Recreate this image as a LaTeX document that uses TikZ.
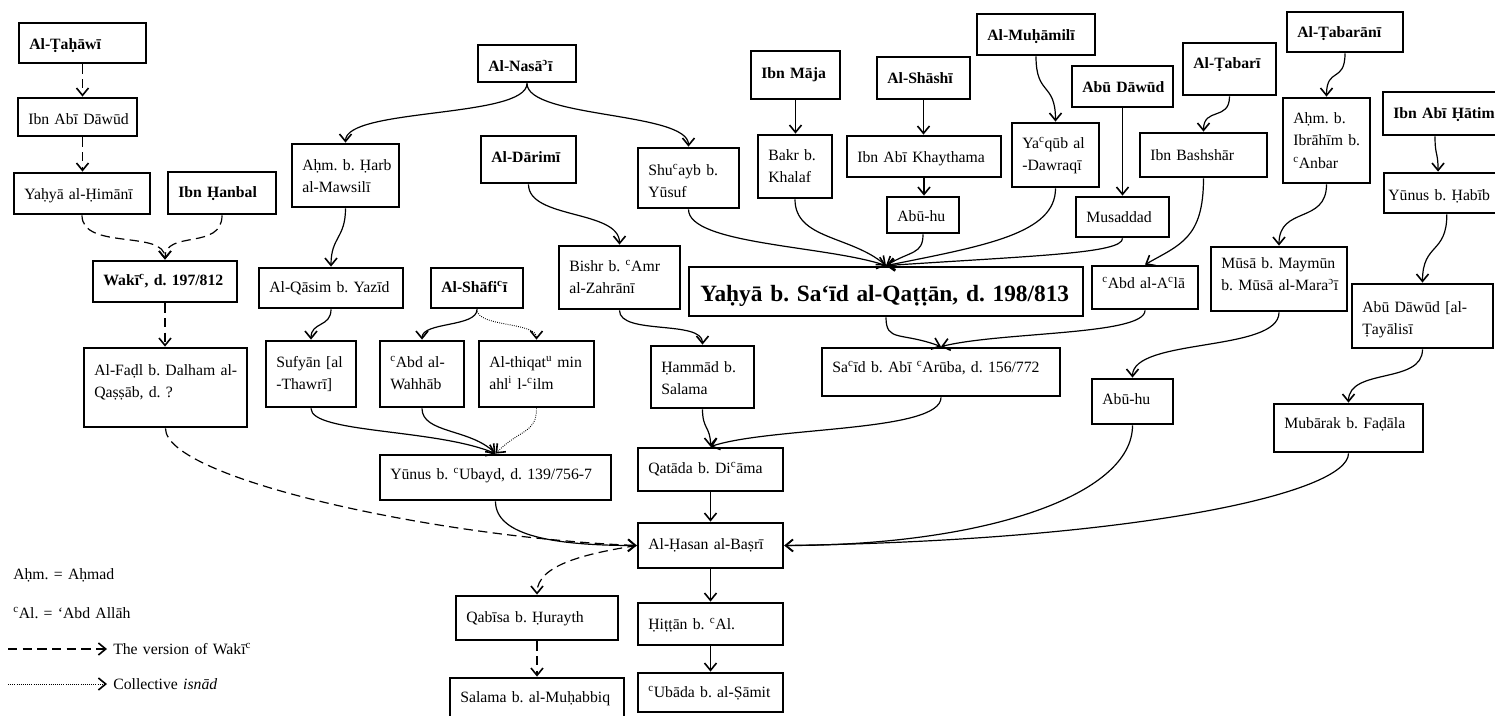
\documentclass[tikz,border=0pt]{standalone}
\usepackage{fontspec}
\setmainfont{Liberation Serif}
\usetikzlibrary{arrows.meta,fit}
\frenchspacing
% superscript ayn and hamza
\newcommand\ayn{\textsuperscript{c}}
\newcommand\hmz{\textsuperscript{ɔ}}
\tikzset{
  isframe/.style={draw=black, line width=2.1pt, inner sep=0pt},
  istext/.style={inner sep=0pt, text width=300pt, align=left,
    font=\fontsize{11.8}{17}\selectfont},
  link/.style={line width=0.9pt, -{Straight Barb[length=5.5pt,width=9pt,line width=1.2pt]}},
  vlink/.style={link, dash pattern=on 7pt off 4pt},
  clink/.style={link, line width=0.7pt, dash pattern=on 0.6pt off 1pt},
}
% box with corners (x1,y1)-(x2,y2); text baseline #1 px below the top
\newcommand\isbox[7][26]{%
  \node[isframe, fit={(#3,#4) (#5,#6)}] (#2) {};
  \node[istext, anchor=base west] (#2-t) at (#3+10,#4+#1) {#7};}
\begin{document}
\begin{tikzpicture}[x=0.75pt, y=-0.75pt]
\useasboundingbox (0,0) rectangle (1495,715);

% ---- left column: the version of Waki'
\isbox{tah}{19}{23}{146}{63}{\bfseries Al-Ṭaḥāwī}
\isbox{iad}{18}{98}{137}{136}{Ibn Abī Dāwūd}
\isbox{yhim}{14}{173}{150}{214}{Yaḥyā al-Ḥimānī}
\isbox[25]{ihan}{168}{172}{276}{214}{\bfseries Ibn Ḥanbal}
\isbox[24]{wak}{93}{261}{237}{302}{\bfseries Wakī\ayn, d. 197/812}
\isbox[27]{fadl}{84}{348}{247}{427}{Al-Faḍl b. Dalham al-\\Qaṣṣāb, d. ?}

% ---- al-Nasa'i, al-Darimi, al-Shafi'i
\isbox{nas}{478}{45}{576}{82}{\bfseries Al-Nasā\hmz ī}
\isbox{harb}{292}{144}{399}{207}{Aḥm. b. Ḥarb\\al-Mawsilī}
\isbox{dar}{481}{136}{576}{183}{\bfseries Al-Dārimī}
\isbox[24]{qas}{259}{268}{403}{308}{Al-Qāsim b. Yazīd}
\isbox[24]{shaf}{431}{268}{523}{308}{\bfseries Al-Shāfi\ayn ī}
\isbox[25]{bishr}{559}{246}{680}{309}{Bishr b. \ayn Amr\\al-Zahrānī}
\isbox{suf}{266}{341}{356}{407}{Sufyān [al\\-Thawrī]}
\isbox{wah}{380}{341}{464}{407}{\ayn Abd al-\\Wahhāb}
\isbox{thiq}{479}{341}{594}{407}{Al-thiqat\textsuperscript{u} min\\ahl\textsuperscript{i} l-\ayn ilm}
\isbox[24]{yub}{380}{455}{611}{500}{Yūnus b. \ayn Ubayd, d. 139/756-7}

% ---- transmitters from Yahya b. Sa'id
\isbox[27]{shu}{638}{148}{739}{208}{Shu\ayn ayb b.\\Yūsuf}
\isbox[27]{maja}{751}{51}{840}{99}{\bfseries Ibn Māja}
\isbox[25]{bakr}{758}{135}{832}{198}{Bakr b.\\Khalaf}
\isbox[26]{shash}{877}{57}{970}{99}{\bfseries Al-Shāshī}
\isbox{iak}{847}{136}{1001}{177}{Ibn Abī Khaythama}
\isbox[24]{abuhu}{887}{197}{959}{233}{Abū-hu}
\isbox{muh}{977}{14}{1095}{55}{\bfseries Al-Muḥāmilī}
\isbox[25]{yaq}{1012}{123}{1099}{187}{Ya\ayn qūb al\\-Dawraqī}
\isbox{abud}{1072}{66}{1173}{107}{\bfseries Abū Dāwūd}
\isbox[25]{mus}{1076}{197}{1169}{237}{Musaddad}
\isbox[25]{tabari}{1183}{43}{1276}{95}{\bfseries Al-Ṭabarī}
\isbox[27]{bash}{1140}{133}{1267}{177}{Ibn Bashshār}

% ---- right column
\isbox[25]{tabrn}{1287}{12}{1403}{52}{\bfseries Al-Ṭabarānī}
\isbox[25]{anbar}{1283}{98}{1370}{183}{Aḥm. b.\\Ibrāhīm b.\\\ayn Anbar}
\isbox{iah}{1383}{92}{1499}{135}{\bfseries Ibn Abī Ḥātim}
\node[isframe, fit={(1384,173) (1499,213)}] (yhab) {};
\node[istext, anchor=base west] (yhab-t) at (1388,200) {Yūnus b. Ḥabīb};

% ---- Yahya b. Sa'id al-Qattan
\node[isframe, fit={(689,267) (1083,316)}] (yq) {};
\node[istext, anchor=base west, text width=400pt,
  font=\fontsize{17.5}{20}\selectfont\bfseries] (yq-t) at (700,301)
  {Yaḥyā b. Sa‘īd al-Qaṭṭān, d. 198/813};
\isbox[22]{abdala}{1092}{266}{1198}{309}{\ayn Abd al-A\ayn lā}
\isbox[21]{musa}{1211}{247}{1347}{311}{Mūsā b. Maymūn\\b. Mūsā al-Mara\hmz ī}
\isbox[28]{tay}{1352}{284}{1493}{348}{Abū Dāwūd [al-\\Ṭayālisī}
\isbox{ham}{651}{346}{754}{408}{Ḥammād b.\\Salama}
\isbox[24]{said}{822}{348}{1060}{396}{Sa\ayn īd b. Abī \ayn Arūba, d. 156/772}
\isbox[25]{abuhu2}{1092}{379}{1173}{424}{Abū-hu}
\isbox[24]{mub}{1274}{404}{1423}{452}{Mubārak b. Faḍāla}

% ---- central trunk
\isbox[25]{qat}{638}{448}{783}{491}{Qatāda b. Di\ayn āma}
\isbox[26]{has}{638}{523}{783}{568}{Al-Ḥasan al-Baṣrī}
\isbox[26]{qab}{456}{596}{618}{640}{Qabīsa b. Ḥurayth}
\isbox[26]{hit}{638}{603}{783}{645}{Ḥiṭṭān b. \ayn Al.}
\isbox[24]{sal}{450}{678}{624}{722}{Salama b. al-Muḥabbiq}
\isbox[24]{uba}{638}{673}{783}{712}{\ayn Ubāda b. al-Ṣāmit}

% ---- connectors: version of Waki'
\draw[vlink] (tah.south) -- (tah.south |- iad.north);
\draw[vlink] (tah.south |- iad.south) -- (tah.south |- yhim.north);
\draw[vlink] (yhim.south) .. controls +(0,35) and +(0,-30) .. (wak.north);
\draw[vlink] (ihan.south) .. controls +(0,35) and +(0,-30) .. (wak.north);
\draw[vlink] (wak.south) -- (wak.south |- fadl.north);
\draw[vlink] (fadl.south) .. controls +(0,50) and +(-200,-8) .. (has.west);
\draw[vlink] (has.west) .. controls +(-50,8) and +(0,-30) .. (qab.north);
\draw[vlink] (qab) -- (sal);

% ---- connectors: al-Nasa'i, al-Darimi, al-Shafi'i
\draw[link] (nas.south) .. controls +(0,35) and +(0,-35) .. (harb.north);
\draw[link] (nas.south) .. controls +(0,35) and +(0,-35) .. (shu.north);
\draw[link] (harb.south) .. controls +(0,30) and +(0,-30) .. (qas.north);
\draw[link] (qas.south) .. controls +(0,18) and +(0,-18) .. (suf.north);
\draw[link] (shaf.south) .. controls +(0,18) and +(0,-18) .. (wah.north);
\draw[clink] (shaf.south) .. controls +(0,18) and +(0,-18) .. (thiq.north);
\draw[link] (suf.south) .. controls +(0,25) and +(-60,-25) .. (yub.north);
\draw[link] (wah.south) .. controls +(0,25) and +(-25,-25) .. (yub.north);
\draw[clink] (thiq.south) .. controls +(0,25) and +(25,-25) .. (yub.north);
\draw[link] (yub.south) .. controls +(0,35) and +(-80,0) .. (has.west);
\draw[link] (dar.south) .. controls +(0,35) and +(0,-35) .. (bishr.north);
\draw[link] (bishr.south) .. controls +(0,25) and +(0,-25) .. (ham.north);
\draw[link] (ham.south) .. controls +(0,20) and +(0,-20) .. (qat.north);

% ---- connectors: into Yahya b. Sa'id
\draw[link] (maja) -- (maja |- bakr.north);
\draw[link] (shash) -- (shash |- iak.north);
\draw[link] (iak) -- (iak |- abuhu.north);
\draw[link] (abud) -- (abud |- mus.north);
\draw[link] (muh.south) .. controls +(0,40) and +(0,-40) .. (yaq.north);
\draw[link] (shu.south) .. controls +(0,35) and +(-60,-20) .. (yq.north);
\draw[link] (bakr.south) .. controls +(0,40) and +(-35,-30) .. (yq.north);
\draw[link] (abuhu.south) .. controls +(0,20) and +(25,-15) .. (yq.north);
\draw[link] (yaq.south) .. controls +(0,45) and +(100,-20) .. (yq.north);
\draw[link] (mus.south) .. controls +(0,15) and +(150,-10) .. (yq.north);

% ---- connectors: Yahya to Sa'id b. Abi 'Aruba and onwards
\draw[link] (tabari.south) .. controls +(0,25) and +(0,-25) .. (bash.north);
\draw[link] (bash.south) .. controls +(0,60) and +(35,-20) .. (abdala.north);
\draw[link] (yq.south) .. controls +(0,25) and +(-40,-15) .. (said.north);
\draw[link] (abdala.south) .. controls +(0,25) and +(60,-15) .. (said.north);
\draw[link] (said.south) .. controls +(0,35) and +(60,-20) .. (qat.north);

% ---- connectors: right column
\draw[link] (tabrn.south) .. controls +(0,30) and +(0,-30) .. (anbar.north);
\draw[link] (anbar.south) .. controls +(0,40) and +(0,-40) .. (musa.north);
\draw[link] ([xshift=-4.5pt]iah.south) .. controls +(0,20) and +(0,-20) .. ([xshift=-2.6pt]yhab.north);
\draw[link] ([xshift=4pt]yhab.south) .. controls +(0,40) and +(0,-40) .. (tay.north);
\draw[link] (musa.south) .. controls +(0,40) and +(0,-40) .. (abuhu2.north);
\draw[link] (tay.south) .. controls +(0,35) and +(0,-35) .. (mub.north);
\draw[link] (abuhu2.south) .. controls +(0,70) and +(200,0) .. (has.east);
\draw[link] (mub.south) .. controls +(0,40) and +(350,-5) .. (has.east);

% ---- central trunk
\draw[link] (qat) -- (has);
\draw[link] (has) -- (hit);
\draw[link] (hit) -- (uba);

% ---- key
\node[istext, anchor=base west] (abbr1) at (13,579) {Aḥm. = Aḥmad};
\node[istext, anchor=base west] (abbr2) at (13,618) {\ayn Al. = ‘Abd Allāh};
\coordinate (k1a) at (8,649);
\coordinate (k1b) at (107,649);
\draw[vlink] (k1a) -- (k1b);
\node[istext, anchor=base west] (k1t) at (113,654) {The version of Wakī\ayn};
\coordinate (k2a) at (8,684);
\coordinate (k2b) at (107,684);
\draw[clink] (k2a) -- (k2b);
\node[istext, anchor=base west] (k2t) at (113,689) {Collective \textit{isnād}};
\end{tikzpicture}
\end{document}
